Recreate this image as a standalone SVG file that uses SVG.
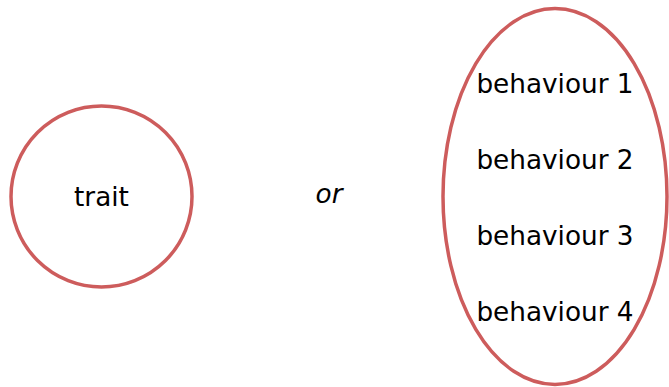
<svg xmlns="http://www.w3.org/2000/svg" width="669" height="387" viewBox="0 0 669 387">
  <style>
    .shape { fill: #ffffff; stroke: #cd5c5c; stroke-width: 3.5; }
    .label { font-family: "DejaVu Sans", sans-serif; font-size: 26.3px; fill: #000000; text-anchor: middle; }
    .or { font-style: italic; }
  </style>
  <rect width="669" height="387" fill="#ffffff"/>
  <g id="trait">
    <circle class="shape" cx="101.5" cy="196.5" r="90.5"/>
    <text class="label" x="101.5" y="206">trait</text>
  </g>
  <g id="or">
    <text class="label or" x="329" y="203">or</text>
  </g>
  <g id="behaviours">
    <ellipse class="shape" cx="555" cy="196.5" rx="112" ry="188"/>
    <text class="label" x="555" y="93">behaviour 1</text>
    <text class="label" x="555" y="169">behaviour 2</text>
    <text class="label" x="555" y="245">behaviour 3</text>
    <text class="label" x="555" y="321">behaviour 4</text>
  </g>
  <g id="connectors"/>
</svg>
